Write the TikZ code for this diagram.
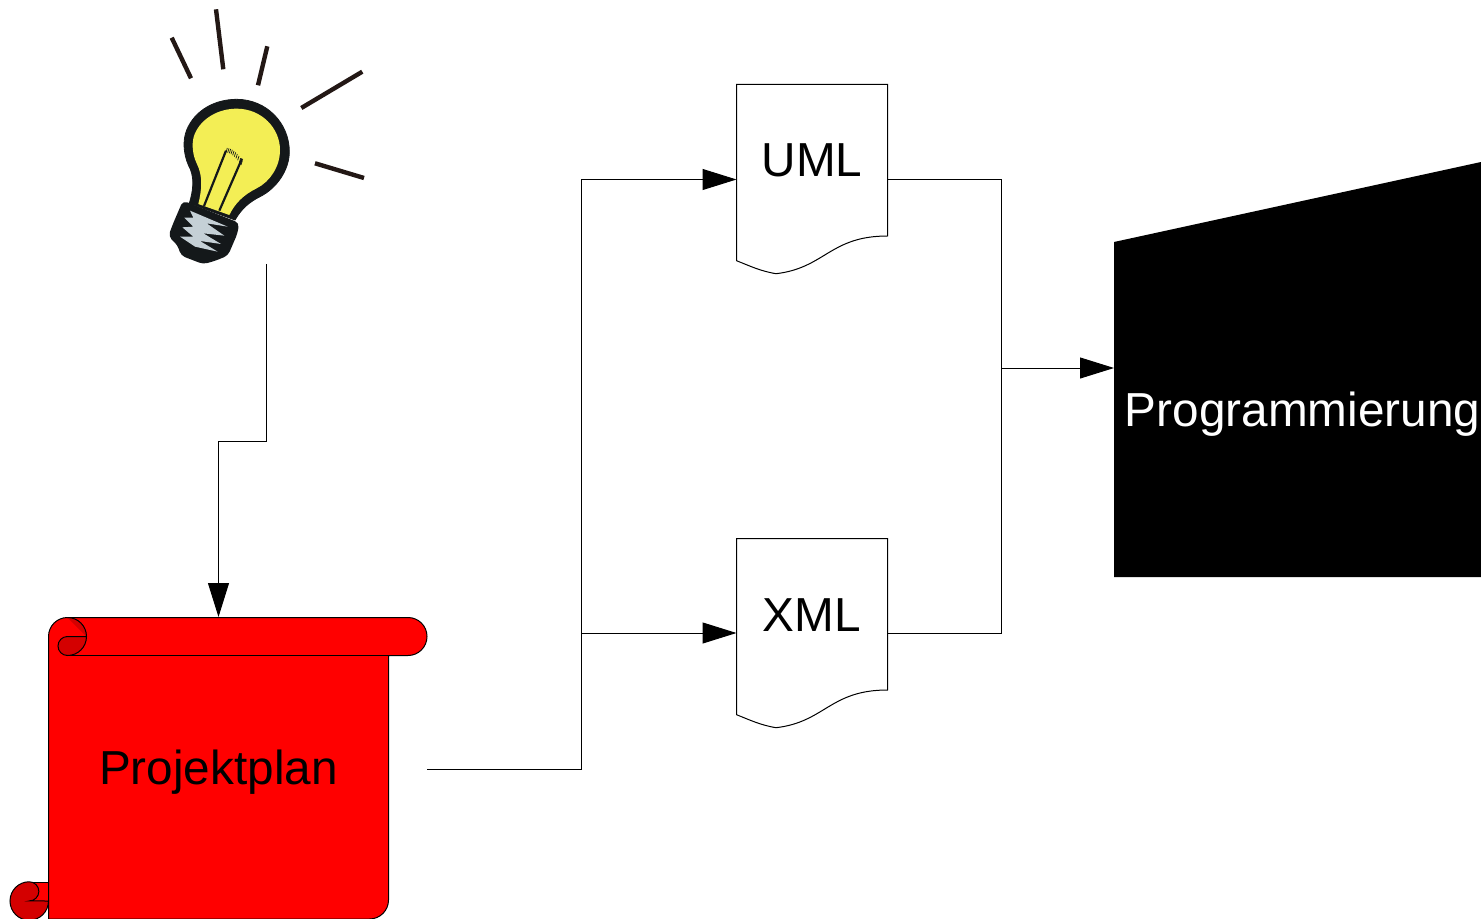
\documentclass[tikz,border=0pt]{standalone}
\usepackage{fontspec}
\setmainfont{Liberation Sans}
\usetikzlibrary{arrows.meta}
\definecolor{curl}{HTML}{D40000}
\definecolor{ray}{HTML}{231815}
\definecolor{bulbblack}{HTML}{14181A}
\definecolor{bulbyellow}{HTML}{F3EE55}
\definecolor{thread}{HTML}{C5D0D6}
\tikzset{
  flow/.style={line width=0.5pt,black},
  arrowed/.style={flow,-{Triangle[length=17pt,width=10.5pt]}},
  label/.style={font=\fontsize{23.85pt}{28pt}\selectfont,anchor=base,inner sep=0pt},
  anchorbox/.style={inner sep=0pt,outer sep=0pt},
  docshape/.style={draw=black,fill=white,line width=0.5pt},
  raystroke/.style={draw=ray,line width=2.2pt},
  curlshape/.style={draw=black,fill=curl,line width=0.5pt},
}
\begin{document}
\begin{tikzpicture}[x=0.5pt,y=-0.5pt]
\useasboundingbox (0,0) rectangle (1481,919);
% anchors for connectors
\node[anchorbox,minimum width=2pt,minimum height=0pt] (bulb) at (266.5,264) {};
\node[anchorbox,minimum width=208.5pt,minimum height=152pt] (plan) at (218.5,769) {};
\node[anchorbox,minimum width=75.5pt,minimum height=95pt] (uml) at (812,179.5) {};
\node[anchorbox,minimum width=75.5pt,minimum height=95pt] (xml) at (812,633) {};
\node[anchorbox,minimum width=183.5pt,minimum height=2pt] (prog) at (1297.5,368) {};
\coordinate (step) at (218.5,441);
\coordinate (busin) at (581.5,633);
\coordinate (busout) at (1001,368);
% bulb rays
\draw[raystroke] (171.7,37.7) -- (191,78.3);
\draw[raystroke] (216,9.3) -- (223.3,69.3);
\draw[raystroke] (267.3,46.3) -- (258,85.3);
\draw[raystroke] (362.3,71.7) -- (301.3,108);
\draw[raystroke] (315,163.3) -- (364,178);
% bulb
\begin{scope}[shift={(140,0)},x=0.16667pt,y=-0.16667pt]
\filldraw[bulbblack,line width=0.4pt] (148,610) .. controls (160,570) and (165,530) .. (145,495)
  .. controls (130,460) and (128,420) .. (140,390)
  .. controls (165,330) and (225,298) .. (290,298)
  .. controls (380,298) and (448,370) .. (448,455)
  .. controls (448,510) and (410,565) .. (360,590)
  .. controls (330,605) and (305,625) .. (285,660) -- cycle;
\fill[bulbyellow] (175,612) .. controls (185,570) and (190,530) .. (170,490)
  .. controls (155,460) and (155,420) .. (165,400)
  .. controls (185,355) and (235,326) .. (290,326)
  .. controls (365,326) and (420,385) .. (420,450)
  .. controls (420,500) and (390,545) .. (350,565)
  .. controls (310,585) and (285,610) .. (268,645) -- cycle;
\filldraw[bulbblack,line width=0.8pt,rounded corners=2pt] (130,605) -- (295,670) -- (290,700) -- (262,765) -- (225,780)
  -- (190,790) -- (125,765) -- (115,735) -- (88,708) -- (100,675) -- cycle;
\draw[bulbblack,line width=1.1pt] (192,618) -- (258,452);
\draw[bulbblack,line width=1.1pt] (238,632) -- (306,476);
\foreach \i in {0,...,9}
  \draw[bulbblack,line width=0.35pt] ({262+5*\i},{444+0.4*\i*\i+0.6*\i}) -- ++(-4,13);
\end{scope}
\begin{scope}[shift={(165,195)},x=0.16667pt,y=-0.16667pt]
\fill[thread] (75,47) -- (188,95) -- (125,85) -- (178,122) -- (115,115) -- (168,147)
  -- (105,138) -- (158,170) -- (90,155) -- (45,125) -- (85,125) -- (52,97)
  -- (85,95) -- (58,68) -- (85,68) -- cycle;
\end{scope}
% scroll
\draw[fill=red,line width=0.5pt] (48.5,636.5) arc[start angle=180,end angle=270,radius=19]
  -- (408,617.5) arc[start angle=270,end angle=450,radius=19]
  -- (388.5,655.5) -- (388.5,900) arc[start angle=0,end angle=90,radius=19]
  -- (48.5,919) -- cycle;
\draw[line width=0.5pt] (67.5,655.5) -- (388.5,655.5);
% top curl
\fill[curl] (67.5,617.5) arc[start angle=270,end angle=360,radius=19] -- cycle;
\fill[curl] (86.5,636.5) arc[start angle=0,end angle=90,radius=19]
  arc[start angle=90,end angle=270,radius=9.5] -- cycle;
\draw[line width=0.5pt] (67.5,617.5) arc[start angle=270,end angle=450,radius=19]
  arc[start angle=90,end angle=270,radius=9.5] -- (86.5,636.5);
% bottom curl
\draw[fill=red,line width=0.5pt] (29,882) -- (48.5,882) -- (48.5,901) -- (29,901) -- cycle;
\draw[curlshape] (48.5,901) arc[start angle=0,end angle=270,radius=19.25]
  arc[start angle=270,end angle=450,radius=9.6] -- cycle;
% documents
\draw[docshape] (736.5,84.5) -- (887.5,84.5) -- (887.5,236)
  .. controls (830,236) and (825,268) .. (776,273.7)
  .. controls (760,271) and (750,266) .. (736.5,260.7) -- cycle;
\draw[docshape] (736.5,538.5) -- (887.5,538.5) -- (887.5,690)
  .. controls (830,690) and (825,722) .. (776,727.7)
  .. controls (760,725) and (750,720) .. (736.5,714.7) -- cycle;
% programming block
\fill[black] (1114,242) -- (1481,162) -- (1481,577) -- (1114,577) -- cycle;
% labels
\node[label] (plantext) at (218.5,784.5) {Projektplan};
\node[label] (umltext) at (812,177) {UML};
\node[label] (xmltext) at (812,631) {XML};
\node[label,text=white] (progtext) at (1302.5,426) {Programmierung};
% connectors
\draw[arrowed] (bulb.south) |- (step) -- (plan.north);
\draw[flow] (plan.east) -| (busin);
\draw[arrowed] (busin) |- (uml.west);
\draw[arrowed] (busin) -- (xml.west);
\draw[flow] (uml.east) -| (busout);
\draw[flow] (xml.east) -| (busout);
\draw[arrowed] (busout) -- (prog.west);
\end{tikzpicture}
\end{document}
